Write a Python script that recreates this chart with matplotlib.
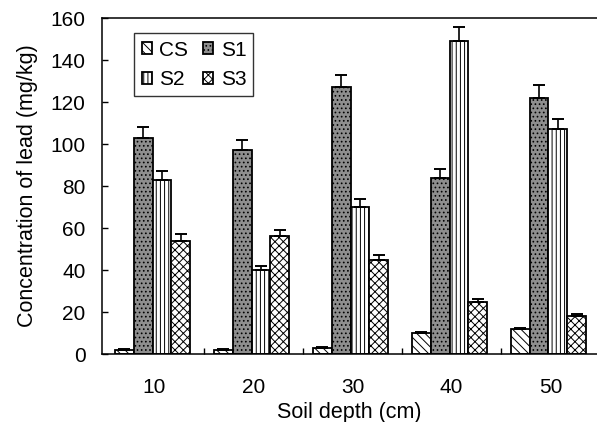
import numpy as np
import matplotlib
matplotlib.use("Agg")
import matplotlib.pyplot as plt

plt.rcParams["font.family"] = ["Liberation Sans", "DejaVu Sans"]
plt.rcParams["hatch.linewidth"] = 0.7

depths = ["10", "20", "30", "40", "50"]
series = ["CS", "S1", "S2", "S3"]
cs = [2, 2, 3, 10, 12]
s1 = [103, 97, 127, 84, 122]
s2 = [83, 40, 70, 149, 107]
s3 = [54, 56, 45, 25, 18]
cs_err = [0.3, 0.3, 0.3, 0.3, 0.3]
s1_err = [5, 5, 6, 4, 6]
s2_err = [4, 2, 4, 7, 5]
s3_err = [3, 3, 2, 1, 1]

values = [cs, s1, s2, s3]
errors = [cs_err, s1_err, s2_err, s3_err]
faces = ["white", "#8e8e8e", "white", "white"]
hatches = ["\\\\\\\\", "....", "||||", "xxxx"]

fig = plt.figure(figsize=(5.97, 4.22), dpi=100)
ax = fig.add_axes([0.171, 0.161, 0.829, 0.796])

x = np.arange(len(depths))
w = 0.19
bars = []
for i, (vals, errs) in enumerate(zip(values, errors)):
    pos = x + (i - 1.5) * w - 0.02
    b = ax.bar(pos, vals, w, color=faces[i], edgecolor="black", linewidth=1.3,
               hatch=hatches[i], label=series[i], zorder=2)
    # only the upper half of the error bar is drawn
    ax.errorbar(pos, vals, yerr=[np.zeros(len(errs)), errs], fmt="none",
                ecolor="black", elinewidth=1.2, capsize=4.5, capthick=1.4, zorder=3)
    bars.append(b)

ax.set_xlim(-0.53, 4.47)
ax.set_ylim(0, 160)
ax.set_yticks(np.arange(0, 161, 20))
ax.set_xticks(x)
ax.set_xticklabels(depths)
ax.set_xticks(np.arange(0.5, 4.0, 1.0), minor=True)
ax.tick_params(axis="x", which="major", length=0, pad=17, labelsize=15)
ax.tick_params(axis="x", which="minor", direction="in", length=4, width=1)
ax.tick_params(axis="y", direction="in", length=4.5, width=1, labelsize=15, pad=12)
ax.spines["right"].set_visible(False)
for s in ["left", "bottom", "top"]:
    ax.spines[s].set_linewidth(1.1)

ax.set_ylabel("Concentration of lead (mg/kg)", fontsize=15.5, labelpad=9)
ax.set_xlabel("Soil depth (cm)", fontsize=15.5, labelpad=3.5)

handles = [bars[0], bars[2], bars[1], bars[3]]
labels = ["CS", "S2", "S1", "S3"]
leg = ax.legend(handles, labels, ncol=2, loc="upper left",
                bbox_to_anchor=(0.065, 0.955), borderaxespad=0, fontsize=15,
                frameon=True, fancybox=False, edgecolor="black",
                handlelength=0.5, handleheight=0.5, handletextpad=0.35,
                columnspacing=0.7, labelspacing=0.5, borderpad=0.35)
leg.get_frame().set_linewidth(1.0)

fig.savefig("out.png", dpi=100)
